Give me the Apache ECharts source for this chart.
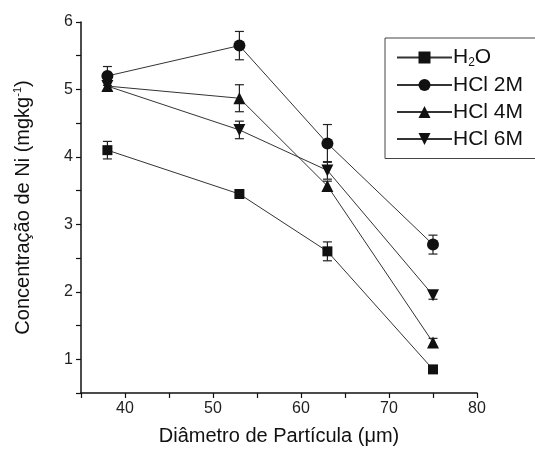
<!DOCTYPE html>
<html>
<head>
<meta charset="utf-8">
<script src="https://cdn.jsdelivr.net/npm/echarts@6/dist/echarts.min.js"></script>
<style>
  html, body { margin: 0; padding: 0; background: #fff; }
  #chart { width: 535px; height: 452px; }
</style>
</head>
<body>
<div id="chart"></div>
<script>
var diameters = [38, 53, 63, 75];
var seriesNames = ['H2O', 'HCl 2M', 'HCl 4M', 'HCl 6M'];
var h2o = [4.1, 3.45, 2.6, 0.85];
var h2oErr = [0.13, 0.04, 0.14, 0.04];
var hcl2 = [5.2, 5.65, 4.2, 2.7];
var hcl2Err = [0.14, 0.21, 0.28, 0.14];
var hcl4 = [5.05, 4.87, 3.57, 1.25];
var hcl4Err = [0.06, 0.2, 0.07, 0.06];
var hcl6 = [5.05, 4.4, 3.8, 1.95];
var hcl6Err = [0.06, 0.13, 0.13, 0.06];

var symbols = ['rect', 'circle', 'triangle', 'triangle'];
var rotations = [0, 0, 0, 180];
var values = [h2o, hcl2, hcl4, hcl6];
var errors = [h2oErr, hcl2Err, hcl4Err, hcl6Err];

var chart = echarts.init(document.getElementById('chart'));
var font = 'Liberation Sans, Arial, sans-serif';

function pairs(ys){
    var out = [];
    for (var i = 0; i < diameters.length; i++) out.push([diameters[i], ys[i]]);
    return out;
}

function errData(ys, es){
    var out = [];
    for (var i = 0; i < diameters.length; i++) out.push([diameters[i], ys[i] - es[i], ys[i] + es[i]]);
    return out;
}

function renderErr(params, api){
    var lo = api.coord([api.value(0), api.value(1)]);
    var hi = api.coord([api.value(0), api.value(2)]);
    var w = 4.5;
    var st = { stroke: '#222', lineWidth: 1.2 };
    return {
        type: 'group',
        children: [
            { type: 'line', shape: { x1: lo[0], y1: lo[1], x2: hi[0], y2: hi[1] }, style: st },
            { type: 'line', shape: { x1: lo[0] - w, y1: lo[1], x2: lo[0] + w, y2: lo[1] }, style: st },
            { type: 'line', shape: { x1: hi[0] - w, y1: hi[1], x2: hi[0] + w, y2: hi[1] }, style: st }
        ]
    };
}

var series = [];
for (var s = 0; s < values.length; s++) {
    series.push({
        name: seriesNames[s] + ' err',
        type: 'custom',
        renderItem: renderErr,
        data: errData(values[s], errors[s]),
        z: 1,
        silent: true
    });
}
for (var s = 0; s < values.length; s++) {
    series.push({
        name: seriesNames[s],
        type: 'line',
        data: pairs(values[s]),
        symbol: symbols[s],
        symbolRotate: rotations[s],
        symbolSize: s == 0 ? 10 : 12,
        lineStyle: { color: '#333', width: 1 },
        itemStyle: { color: '#111' },
        z: 3
    });
}

chart.setOption({
    animation: false,
    textStyle: { fontFamily: font },
    grid: { left: 81, right: 58, top: 22, bottom: 59 },
    legend: {
        data: seriesNames,
        orient: 'vertical',
        left: 385,
        top: 38,
        width: 142,
        padding: [9, 14, 9, 11],
        itemGap: 6,
        itemWidth: 55,
        itemHeight: 15,
        borderColor: '#444',
        borderWidth: 1,
        formatter: function(n){
            return n == 'H2O' ? 'H{sub|2}O' : n;
        },
        textStyle: {
            fontSize: 21,
            color: '#111',
            fontFamily: font,
            padding: [0, 0, 0, -4],
            rich: {
                sub: { fontSize: 12, padding: [10, 0, 0, 0], color: '#111', fontFamily: font }
            }
        }
    },
    xAxis: {
        type: 'value',
        min: 35,
        max: 80,
        interval: 5,
        name: 'Diâmetro de Partícula (μm)',
        nameLocation: 'middle',
        nameGap: 33,
        nameTextStyle: { fontSize: 20, color: '#111', fontFamily: font },
        splitLine: { show: false },
        axisLine: { onZero: false, lineStyle: { color: '#111', width: 1.5 } },
        axisTick: { length: 5, lineStyle: { color: '#111', width: 1.2 } },
        axisLabel: {
            fontSize: 16, color: '#222', margin: 8,
            formatter: function(v){ return v % 10 === 0 ? v : ''; }
        }
    },
    yAxis: {
        type: 'value',
        min: 0.5,
        max: 6,
        interval: 0.5,
        name: 'Concentração de Ni (mgkg{sup|-1})',
        nameLocation: 'middle',
        nameGap: 46,
        nameTextStyle: {
            fontSize: 20, color: '#111', fontFamily: font,
            rich: {
                sup: { fontSize: 11, padding: [0, 0, 12, 0], color: '#111', fontFamily: font }
            }
        },
        splitLine: { show: false },
        axisLine: { onZero: false, lineStyle: { color: '#111', width: 1.5 } },
        axisTick: { length: 5, lineStyle: { color: '#111', width: 1.2 } },
        axisLabel: {
            fontSize: 16, color: '#222', margin: 8,
            formatter: function(v){ return v % 1 === 0 ? v : ''; }
        }
    },
    series: series
});
</script>
</body>
</html>
